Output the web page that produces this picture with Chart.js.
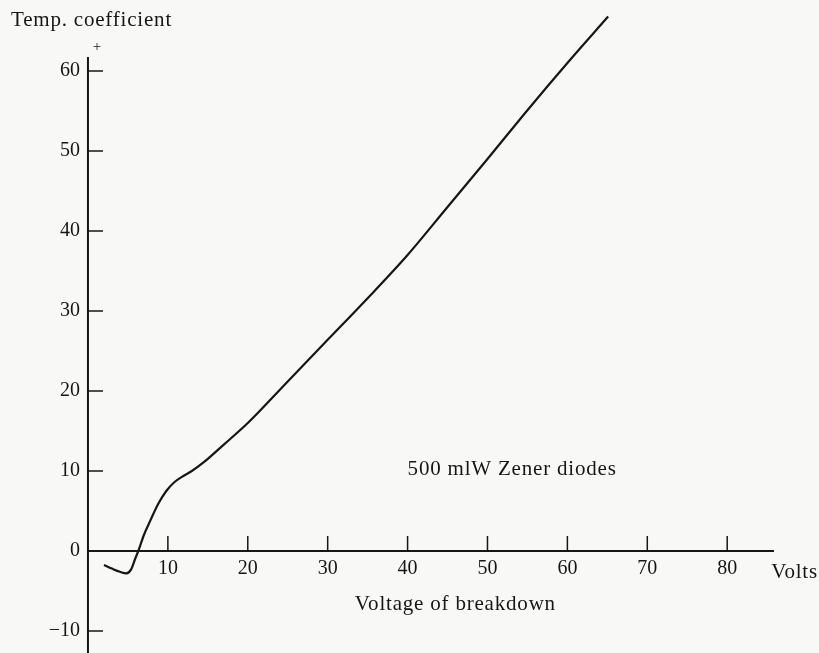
<!DOCTYPE html>
<html>
<head>
<meta charset="utf-8">
<script src="https://cdn.jsdelivr.net/npm/chart.js@4.4.1/dist/chart.umd.min.js"></script>
<style>
    html, body { margin: 0; padding: 0; background: #f8f8f7; }
    #wrap { width: 819px; height: 653px; }
</style>
</head>
<body>
<div id="wrap"><canvas id="zenerChart" width="819" height="653"></canvas></div>
<script>
// breakdown voltage (V) and temperature coefficient
const volts = [2.0, 3.0, 4.0, 4.8, 5.4, 5.9, 6.3, 7.0, 7.8, 8.8, 9.8, 10.8, 11.8, 13.0, 14.5, 17.0, 20.0, 25.0, 30.0, 35.0, 40.0, 45.0, 50.0, 55.0, 60.0, 65.1];
const tempCoeff = [-1.75, -2.2, -2.6, -2.8, -2.3, -1.0, 0, 2.0, 3.8, 5.9, 7.5, 8.6, 9.3, 10.0, 11.1, 13.3, 16.0, 21.2, 26.4, 31.6, 37.0, 43.0, 49.0, 55.1, 61.0, 66.8];

const xTicks = [10, 20, 30, 40, 50, 60, 70, 80];
const yTicks = [60, 50, 40, 30, 20, 10, 0, -10];

const ink = '#161616';
const font = '"Liberation Serif", serif';

// axes, ticks and text drawn against the chart's own scales
const axesPlugin = {
    id: 'axesPlugin',
    afterDatasetsDraw(chart) {
        const { ctx, scales: { x, y } } = chart;
        const x0 = x.getPixelForValue(0);
        const y0 = y.getPixelForValue(0);
        ctx.save();
        ctx.strokeStyle = ink;
        ctx.fillStyle = ink;
        ctx.lineWidth = 2;

        // y axis
        ctx.beginPath();
        ctx.moveTo(x0, y.getPixelForValue(61.75));
        ctx.lineTo(x0, chart.height);
        ctx.stroke();
        // x axis
        ctx.beginPath();
        ctx.moveTo(x0, y0);
        ctx.lineTo(x.getPixelForValue(85.86), y0);
        ctx.stroke();

        ctx.lineWidth = 1.5;
        ctx.font = '20px ' + font;
        ctx.textAlign = 'right';
        ctx.textBaseline = 'middle';
        yTicks.forEach(v => {
            const py = y.getPixelForValue(v);
            if (v !== 0) {
                ctx.beginPath();
                ctx.moveTo(x0, py);
                ctx.lineTo(x0 + 15, py);
                ctx.stroke();
            }
            ctx.fillText(v < 0 ? '\u2212' + Math.abs(v) : String(v), x0 - 8, py);
        });

        xTicks.forEach(v => {
            const px = x.getPixelForValue(v);
            ctx.beginPath();
            ctx.moveTo(px, y0);
            ctx.lineTo(px, y0 - 15);
            ctx.stroke();
        });
        ctx.textAlign = 'center';
        xTicks.forEach(v => {
            ctx.fillText(String(v), x.getPixelForValue(v), y0 + 18);
        });

        ctx.font = '21px ' + font;
        ctx.letterSpacing = '0.8px';
        ctx.textAlign = 'left';
        ctx.fillText('Volts', x.getPixelForValue(85.5), y0 + 21);
        ctx.fillText('Voltage of breakdown', x.getPixelForValue(33.4), y0 + 53);
        ctx.fillText('Temp. coefficient', 11, 20);
        ctx.fillText('500 mlW Zener diodes', x.getPixelForValue(40.0), y.getPixelForValue(10.2));
        ctx.letterSpacing = '0px';
        ctx.textAlign = 'center';
        ctx.font = '15px ' + font;
        ctx.fillText('+', x0 + 9, 47);
        ctx.restore();
    },
};

new Chart(document.getElementById('zenerChart'), {
    type: 'line',
    data: {
        datasets: [
            {
                data: volts.map((v, i) => ({ x: v, y: tempCoeff[i] })),
                borderColor: ink,
                borderWidth: 2.2,
                pointRadius: 0,
                fill: false,
                cubicInterpolationMode: 'monotone',
            },
        ],
    },
    options: {
        responsive: false,
        animation: false,
        layout: { padding: 0 },
        plugins: {
            legend: { display: false },
            tooltip: { enabled: false },
        },
        scales: {
            x: { type: 'linear', display: false, min: -11.01, max: 91.49 },
            y: { type: 'linear', display: false, min: -12.75, max: 68.875 },
        },
    },
    plugins: [axesPlugin],
});
</script>
</body>
</html>
